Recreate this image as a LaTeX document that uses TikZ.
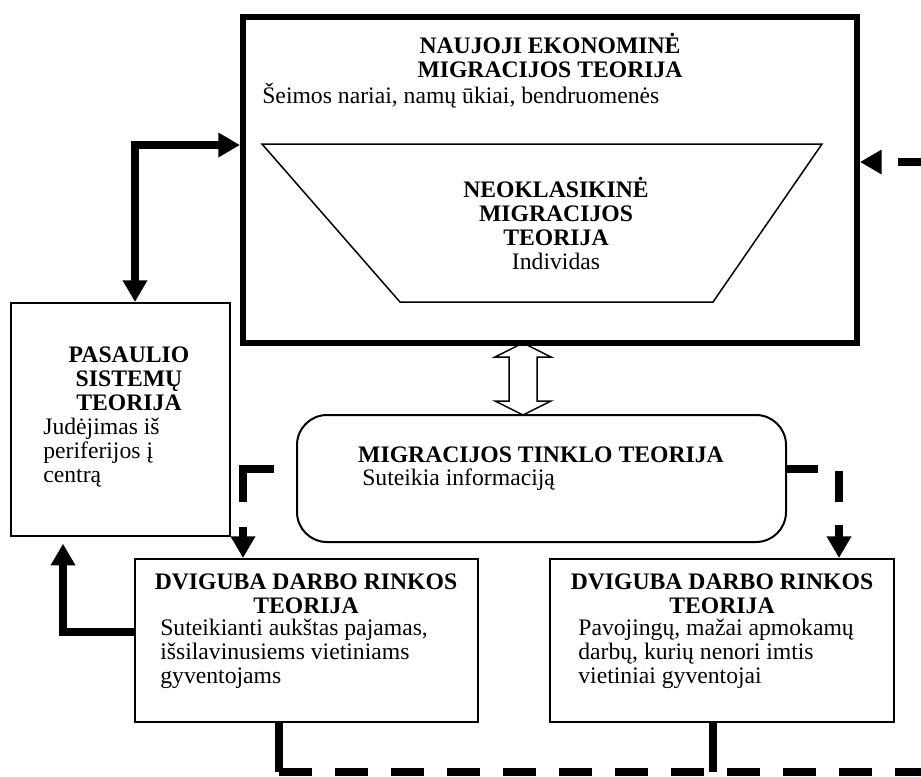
\documentclass[tikz,border=0pt]{standalone}
\usepackage{fontspec}
\setmainfont{Liberation Serif}
\usetikzlibrary{arrows.meta}
\begin{document}
\begin{tikzpicture}[x=0.6pt,y=-0.6pt,>={Triangle[length=13pt,width=14pt]},
  every node/.style={inner sep=0pt,font=\fontsize{14.2}{14.2}\selectfont},
  ttl/.style={font=\fontsize{14.2}{14.2}\selectfont\bfseries,align=center,anchor=base},
  txt/.style={align=left,anchor=base west},
  heavy/.style={line width=4.4pt},
  longdash/.style={heavy,dash pattern=on 19.8pt off 13.8pt}]
\useasboundingbox (0,0) rectangle (921,776);
\clip (0,0) rectangle (921,776);
% boxes
\node[draw,line width=3.6pt,minimum width=368.4pt,minimum height=195.6pt] (nauj) at (550,180) {};
\node[draw,line width=1.2pt,minimum width=131.4pt,minimum height=139.8pt] (pas) at (120.5,419.5) {};
\node[draw,line width=1.2pt,rounded corners=18pt,minimum width=293.4pt,minimum height=76.2pt] (tink) at (541.5,478.5) {};
\node[draw,line width=1.2pt,minimum width=205.8pt,minimum height=97.8pt] (dl) at (306.5,640.5) {};
\node[draw,line width=1.2pt,minimum width=206.4pt,minimum height=97.8pt] (dr) at (722,640.5) {};
% inner trapezium
\draw[line width=0.9pt] (262,144) -- (822,144) -- (713,302) -- (400,302) -- cycle;
% texts (base = last line)
\node[ttl] (t1) at (550,77) {NAUJOJI EKONOMINĖ\\MIGRACIJOS TEORIJA};
\node[txt] (b1) at (262,103) {Šeimos nariai, namų ūkiai, bendruomenės};
\node[ttl] (t2) at (556,245) {NEOKLASIKINĖ\\MIGRACIJOS\\TEORIJA};
\node[anchor=base] (b2) at (556,269) {Individas};
\node[ttl] (t3) at (129,410) {PASAULIO\\SISTEMŲ\\TEORIJA};
\node[txt] (b3) at (43,482) {Judėjimas iš\\periferijos į\\centrą};
\node[ttl] (t4) at (541,462) {MIGRACIJOS TINKLO TEORIJA};
\node[txt] (b4) at (362,485) {Suteikia informaciją};
\node[ttl] (t5) at (306,613) {DVIGUBA DARBO RINKOS\\TEORIJA};
\node[txt] (b5) at (160,683) {Suteikianti aukštas pajamas,\\išsilavinusiems vietiniams\\gyventojams};
\node[ttl] (t6) at (722,613) {DVIGUBA DARBO RINKOS\\TEORIJA};
\node[txt] (b6) at (578,683) {Pavojingų, mažai apmokamų\\darbų, kurių nenori imtis\\vietiniai gyventojai};
% solid arrows on the left
\coordinate (lk) at (135,145);
\draw[heavy,<->] (lk -| nauj.west) -| (lk |- pas.north);
\coordinate (fk) at (63,632);
\draw[heavy,->,shorten >=4pt] (fk -| dl.west) -| (fk |- pas.south);
% open double arrow
\coordinate (s) at (523,379);
\draw[line width=0.9pt,shift={(s)}] (0,-36) -- (28,-22) -- (14,-22) -- (14,22) -- (28,22)
  -- (0,36) -- (-28,22) -- (-14,22) -- (-14,-22) -- (-28,-22) -- cycle;
% dashed arrows from the network
\coordinate (gk) at (243,469);
\draw[heavy,->,dash pattern=on 38.4pt off 15pt on 30pt off 13.2pt,dash phase=83.4pt]
  (tink.west |- gk) -| (gk |- dl.north);
\coordinate (hk) at (839,469);
\draw[heavy,->,dash pattern=on 18.6pt off 13.8pt] (tink.east |- hk) -| (hk |- dr.north);
% bottom loop back to the top
\coordinate (q1) at (279,772);
\coordinate (q2) at (713,772);
\draw[heavy] (dl.south -| q1) -- (q1);
\draw[heavy] (dr.south -| q2) -- (q2);
\coordinate (rk) at (972,162);
\draw[longdash,->] (q1) -| (rk) -- (rk -| nauj.east);
\end{tikzpicture}
\end{document}
